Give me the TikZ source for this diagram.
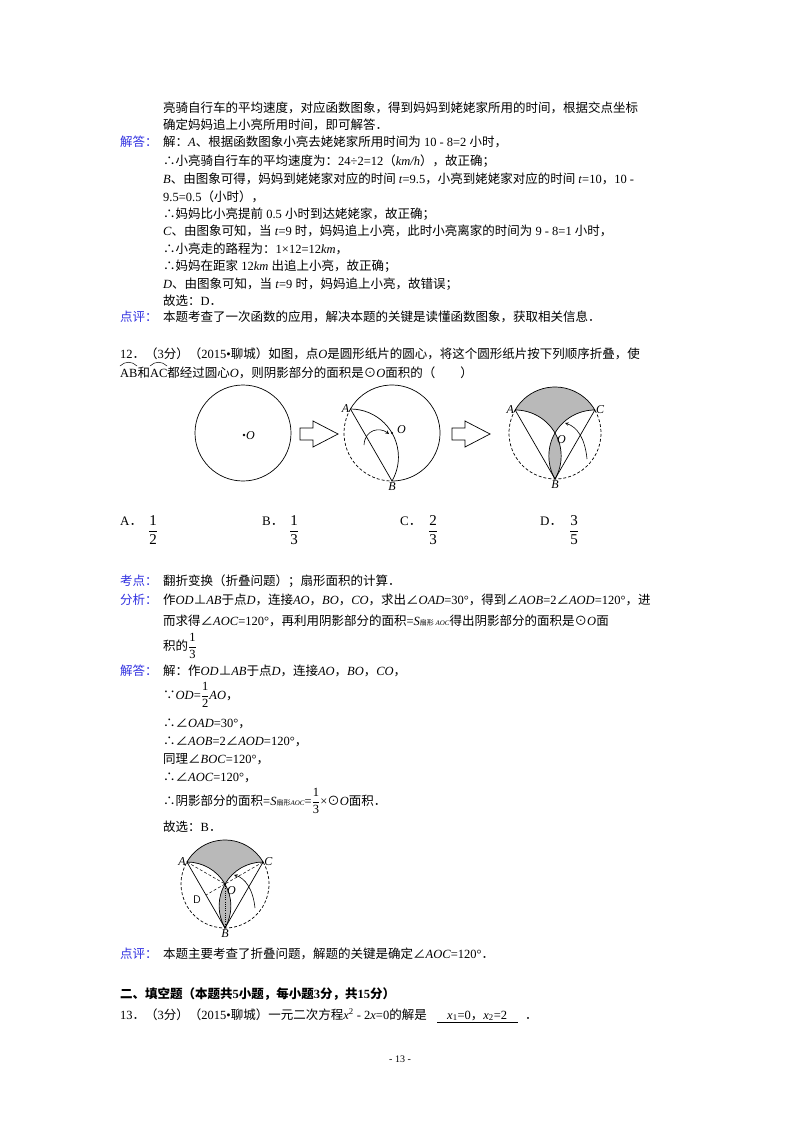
\documentclass[tikz,border=0pt]{standalone}
\usepackage{fontspec}
\usetikzlibrary{calc}
\setmainfont{Liberation Serif}
\newfontfamily\cjk{Noto Sans CJK SC}
\makeatletter
\XeTeXinterchartokenstate=1
\newXeTeXintercharclass\cjkcls
\def\setcls#1#2{\count@=#1\relax\loop\XeTeXcharclass\count@=\cjkcls\ifnum\count@<#2\advance\count@ 1\repeat}
\setcls{"4E00}{"9FFF}
\setcls{"3000}{"303F}
\setcls{"FF00}{"FFEF}
\XeTeXcharclass"2234=\cjkcls
\XeTeXcharclass"2235=\cjkcls
\XeTeXcharclass"2299=\cjkcls
\XeTeXcharclass"2220=\cjkcls
\XeTeXcharclass"22A5=\cjkcls
\XeTeXinterchartoks 0 \cjkcls = {\begingroup\cjk}
\XeTeXinterchartoks 4095 \cjkcls = {\begingroup\cjk}
\XeTeXinterchartoks \cjkcls 0 = {\endgroup}
\XeTeXinterchartoks \cjkcls 4095 = {\endgroup}
\makeatother
\definecolor{labblue}{RGB}{50,50,225}
\newcommand\I[1]{\textit{#1}}
\newcommand\fr[2]{$\displaystyle\frac{\mbox{#1}}{\mbox{#2}}$}
\tikzset{
  t/.style={anchor=base west,inner sep=0pt,font=\fontsize{12.5}{14}\selectfont},
  lab/.style={t,text=labblue},
  fig/.style={line width=0.7pt},
  dsh/.style={line width=0.7pt,dash pattern=on 3pt off 2pt},
  shade/.style={fill=gray!55,draw=black,line width=0.7pt},
  blk/.style={draw,line width=0.7pt,fill=white},
  fl/.style={font=\fontsize{12}{14}\selectfont\itshape,inner sep=1pt},
  chf/.style={inner sep=0,font=\fontsize{15}{16}\selectfont}
}
\begin{document}
\begin{tikzpicture}[x=1pt,y=-1pt]
\useasboundingbox[fill=white] (0,0) rectangle (800,1132);
% top solution text
\node[t] (l1) at (163,112) {亮骑自行车的平均速度，对应函数图象，得到妈妈到姥姥家所用的时间，根据交点坐标};
\node[t] (l2) at (163,129) {确定妈妈追上小亮所用时间，即可解答．};
\node[lab] (j1) at (120,146) {解答：};
\node[t] (l3) at (163,146) {解：\I{A}、根据函数图象小亮去姥姥家所用时间为 10 - 8=2 小时，};
\node[t] (l4) at (163,165) {∴小亮骑自行车的平均速度为：24÷2=12（\I{km/h}），故正确；};
\node[t] (l5) at (163,183) {\I{B}、由图象可得，妈妈到姥姥家对应的时间 \I{t}=9.5，小亮到姥姥家对应的时间 \I{t}=10，10 -};
\node[t] (l6) at (163,201) {9.5=0.5（小时），};
\node[t] (l7) at (163,218) {∴妈妈比小亮提前 0.5 小时到达姥姥家，故正确；};
\node[t] (l8) at (163,235) {\I{C}、由图象可知，当 \I{t}=9 时，妈妈追上小亮，此时小亮离家的时间为 9 - 8=1 小时，};
\node[t] (l9) at (163,253) {∴小亮走的路程为：1×12=12\I{km}，};
\node[t] (l10) at (163,270) {∴妈妈在距家 12\I{km} 出追上小亮，故正确；};
\node[t] (l11) at (163,288) {\I{D}、由图象可知，当 \I{t}=9 时，妈妈追上小亮，故错误；};
\node[t] (l12) at (163,305) {故选：D．};
\node[lab] (d1) at (120,321) {点评：};
\node[t] (l13) at (163,321) {本题考查了一次函数的应用，解决本题的关键是读懂函数图象，获取相关信息．};
% question 12
\node[t] (q1) at (120,358) {12．（3分）（2015•聊城）如图，点\I{O}是圆形纸片的圆心，将这个圆形纸片按下列顺序折叠，使};
\node[t] (q2) at (120,377) {AB和AC都经过圆心\I{O}，则阴影部分的面积是⊙\I{O}面积的（\quad\quad）};
\draw[line width=0.5pt] (120,366) .. controls (125,361) and (132,361) .. (137,366);
\draw[line width=0.5pt] (150,366) .. controls (155,361) and (162,361) .. (167,366);
% fig 1
\begin{scope}[shift={(243,433)},y=1pt]
\draw[fig] (0,0) circle (48);
\fill (1,-2) circle (1.3);
\node[fl,anchor=west] (o1) at (2,-3) {O};
\end{scope}
% hollow arrows
\draw[blk] (300,428)--(313,428)--(313,421)--(338,434)--(313,447)--(313,440)--(300,440)--cycle;
\draw[blk] (452,428)--(465,428)--(465,421)--(490,434)--(465,447)--(465,440)--(452,440)--cycle;
% fig 2
\begin{scope}[shift={(392,433)},y=1pt]
\draw[fig] (150:48) arc[start angle=150,end angle=-90,radius=48];
\draw[dsh] (150:48) arc[start angle=150,end angle=270,radius=48];
\draw[fig] (150:48) arc[start angle=90,end angle=-30,radius=48];
\draw[fig] (150:48) -- (270:48);
\fill (0,0) circle (1.2);
\draw[line width=0.6pt,-stealth] (-28,-12) .. controls (-27,4) and (-12,6) .. (-3,-1);
\node[fl,anchor=west] (o2) at (4,3) {O};
\node[fl,anchor=east] (a2) at (150:48) {A};
\node[fl,anchor=north] (b2) at (270:48) {B};
\end{scope}
% fig 3
\begin{scope}[shift={(555,433)},y=1pt]
\path[shade] (150:46) arc[start angle=150,end angle=30,radius=46]
  arc[start angle=90,end angle=150,radius=46] arc[start angle=30,end angle=90,radius=46] -- cycle;
\path[shade] (0,0) arc[start angle=30,end angle=-30,radius=46] arc[start angle=210,end angle=150,radius=46] -- cycle;
\draw[dsh] (30:46) arc[start angle=30,end angle=-210,radius=46];
\draw[fig] (150:46) -- (270:46) -- (30:46);
\draw[line width=0.6pt,-stealth] (32,-26) .. controls (30,-5) and (22,6) .. (10,10);
\node[fl,anchor=north west] (o3) at (1,-1) {O};
\node[fl,anchor=east] (a3) at (150:46) {A};
\node[fl,anchor=west] (c3) at (30:46) {C};
\node[fl,anchor=north] (b3) at (270:46) {B};
\end{scope}
% choices
\node[t,font=\fontsize{13}{14}\selectfont] (ca) at (120,525) {A．};
\node[chf] (fa) at (153,530) {\fr{1}{2}};
\node[t,font=\fontsize{13}{14}\selectfont] (cb) at (262,525) {B．};
\node[chf] (fb) at (294,530) {\fr{1}{3}};
\node[t,font=\fontsize{13}{14}\selectfont] (cc) at (400,525) {C．};
\node[chf] (fc) at (433,530) {\fr{2}{3}};
\node[t,font=\fontsize{13}{14}\selectfont] (cd) at (540,525) {D．};
\node[chf] (fd) at (574,530) {\fr{3}{5}};
% analysis
\node[lab] (k1) at (120,585) {考点：};
\node[t] (k2) at (163,585) {翻折变换（折叠问题）；扇形面积的计算．};
\node[lab] (f1) at (120,604) {分析：};
\node[t] (f2) at (163,604) {作\I{OD}⊥\I{AB}于点\I{D}，连接\I{AO}，\I{BO}，\I{CO}，求出∠\I{OAD}=30°，得到∠\I{AOB}=2∠\I{AOD}=120°，进};
\node[t] (f3) at (163,625) {而求得∠\I{AOC}=120°，再利用阴影部分的面积=\I{S}{\fontsize{7}{8}\selectfont 扇形 \I{AOC}}得出阴影部分的面积是⊙\I{O}面};
\node[t] (f4) at (163,650) {积的\fr{1}{3}};
% answer
\node[lab] (a1) at (120,675) {解答：};
\node[t] (s1) at (163,675) {解：作\I{OD}⊥\I{AB}于点\I{D}，连接\I{AO}，\I{BO}，\I{CO}，};
\node[t] (s2) at (163,699) {∵\I{OD}=\fr{1}{2}\I{AO}，};
\node[t] (s3) at (163,727) {∴∠\I{OAD}=30°，};
\node[t] (s4) at (163,745) {∴∠\I{AOB}=2∠\I{AOD}=120°，};
\node[t] (s5) at (163,763) {同理∠\I{BOC}=120°，};
\node[t] (s6) at (163,781) {∴∠\I{AOC}=120°，};
\node[t] (s7) at (163,805) {∴阴影部分的面积=\I{S}{\fontsize{7}{8}\selectfont 扇形\I{AOC}}=\fr{1}{3}×⊙\I{O}面积．};
\node[t] (s8) at (163,831) {故选：B．};
% fig 4
\begin{scope}[shift={(225,884)},y=1pt]
\path[shade] (150:44) arc[start angle=150,end angle=30,radius=44]
  arc[start angle=90,end angle=150,radius=44] arc[start angle=30,end angle=90,radius=44] -- cycle;
\path[shade] (0,0) arc[start angle=30,end angle=-30,radius=44] arc[start angle=210,end angle=150,radius=44] -- cycle;
\draw[dsh] (30:44) arc[start angle=30,end angle=-210,radius=44];
\draw[fig] (150:44) -- (270:44) -- (30:44);
\coordinate (dd) at ($(150:44)!0.5!(270:44)$);
\draw[dsh,line width=0.5pt] (150:44) -- (0,0) -- (30:44);
\draw[dsh,line width=0.5pt] (0,0) -- (dd);
\draw[line width=0.6pt,dash pattern=on 1pt off 1.2pt] (0,0) -- (270:44);
\draw[line width=0.6pt,-stealth] (30,-24) .. controls (28,-5) and (20,6) .. (9,9);
\node[fl,anchor=north west] (o4) at (1,-1) {O};
\node[fl,anchor=east] (a4) at (150:44) {A};
\node[fl,anchor=west] (c4) at (30:44) {C};
\node[fl,anchor=north] (b4) at (270:44) {B};
\node[font=\sffamily\fontsize{11}{12}\selectfont,inner sep=0] (d4) at (-28,-16) {D};
\end{scope}
\node[lab] (p1) at (120,958) {点评：};
\node[t] (p2) at (163,958) {本题主要考查了折叠问题，解题的关键是确定∠\I{AOC}=120°．};
% section 2
\node[t,font=\fontsize{12.5}{14}\selectfont\bfseries] (h1) at (120,998) {二、填空题（本题共5小题，每小题3分，共15分）};
\node[t] (q13) at (120,1019) {13．（3分）（2015•聊城）一元二次方程\I{x}\textsuperscript{2} - 2\I{x}=0的解是};
\node[t] (ans) at (447,1019) {\I{x}\textsubscript{1}=0，\I{x}\textsubscript{2}=2};
\draw[line width=0.5pt] (437,1022) -- (518,1022);
\node[t] (dot) at (525,1019) {．};
\node[inner sep=0,font=\fontsize{10}{12}\selectfont] (pg) at (400,1059) {- 13 -};
\end{tikzpicture}
\end{document}
